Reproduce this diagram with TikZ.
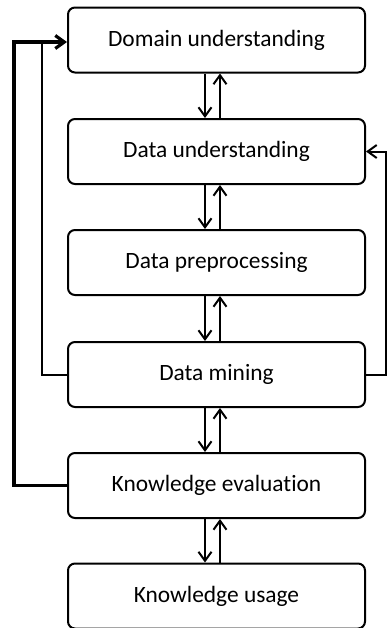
\documentclass[tikz,border=0pt]{standalone}
\usepackage{fontspec}
\setmainfont{Carlito}[Ligatures=NoCommon]
\usetikzlibrary{positioning}
\usetikzlibrary{arrows.meta}
\tikzset{
    stagebox/.style = {rectangle, rounded corners=3.5pt, line width=1pt, draw=black, align=center, fill=white,
                       minimum width=148.5pt, minimum height=32.5pt, font=\fontsize{11.7}{14}\selectfont, text=black},
    flow/.style = {-{Straight Barb[length=4.5pt,width=6.5pt]}, line width=1pt, black},
    backflow/.style = {-{Straight Barb[length=4.5pt,width=6.5pt]}, line width=1pt, black},
    backthick/.style = {-{Straight Barb[length=4.5pt,width=6.5pt]}, line width=1.6pt, black},
    backline/.style = {-, line width=1pt, black}
}

\begin{document}
\begin{tikzpicture}[x=0.5pt,y=-0.5pt]
\useasboundingbox (0,0) rectangle (388,628);
\node[stagebox] at (216.5, 40.0) (domain) {Domain understanding};
\node[stagebox] at (216.5, 151.5) (dataund) {Data understanding};
\node[stagebox] at (216.5, 262.5) (prep) {Data preprocessing};
\node[stagebox] at (216.5, 374.5) (mining) {Data mining};
\node[stagebox] at (216.5, 485.5) (evalu) {Knowledge evaluation};
\node[stagebox] at (216.5, 596.0) (usage) {Knowledge usage};

\coordinate (outer) at (14, 42);
\coordinate (inner) at (42, 42);
\coordinate (rside) at (386, 151.5);

% forward and backward steps
\foreach \a/\b in {domain/dataund, dataund/prep, prep/mining, mining/evalu, evalu/usage} {
    \draw[flow] ([xshift=-5.75pt]\a.south) -- ([xshift=-5.75pt]\b.north);
    \draw[flow] ([xshift=1.75pt]\b.north) -- ([xshift=1.75pt]\a.south);
}

% loops back
\draw[backthick] (evalu.west) -| (outer) -- (outer -| domain.west);
\draw[backline] (mining.west) -| (inner);
\draw[backflow] (mining.east) -| (rside) -- (dataund.east);
\end{tikzpicture}
\end{document}
